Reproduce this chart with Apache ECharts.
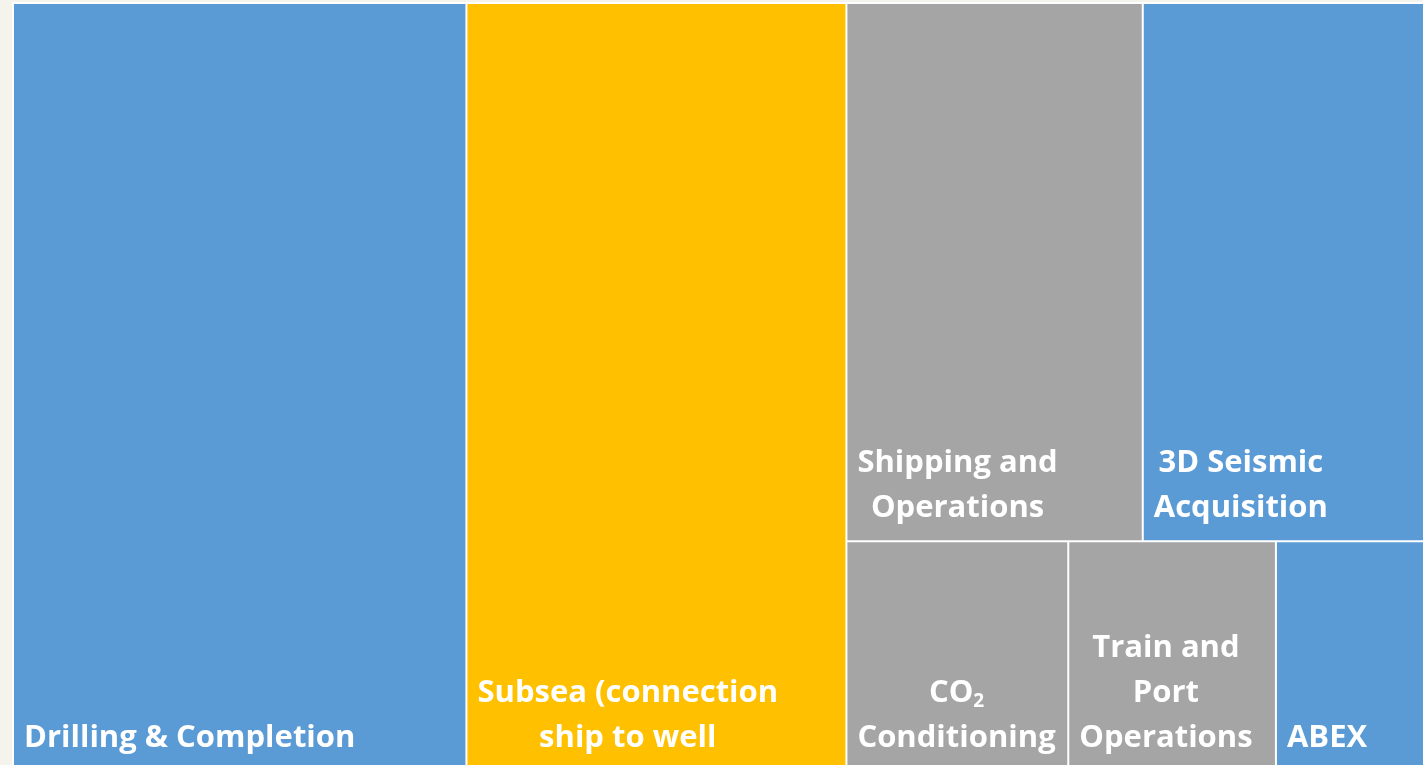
<!DOCTYPE html>
<html><head><meta charset="utf-8">
<script src="https://cdn.jsdelivr.net/npm/echarts@6/dist/echarts.min.js"></script>
<style>html,body{margin:0;padding:0;background:#F5F4EC;overflow:hidden;} #c{width:1423px;height:765px;}</style>
</head><body><div id="c"></div>
<script>
// ---- data ----
const categories = ['Drilling & Completion', 'Subsea (connection\nship to well', 'Shipping and\nOperations', '3D Seismic\nAcquisition', 'CO₂\nConditioning', 'Train and\nPort\nOperations', 'ABEX'];
const values = [32.1, 26.9, 14.7, 14.1, 4.7, 4.4, 3.2];
const groups = ['blue', 'yellow', 'gray', 'blue', 'gray', 'gray', 'blue'];
const groupColors = { blue: '#5B9BD5', yellow: '#FFC000', gray: '#A5A5A5' };

// ---- label styling ----
const FONT_FAMILY = 'Open Sans';
const FONT_SIZE = 31;
const SUB_SIZE = 19;
const LINE_H = 45;
const PAD_LEFT = 10;
const BOTTOM_GAP = 9;
const ctx = document.createElement('canvas').getContext('2d');
function measure(s, size) { ctx.font = 'bold ' + size + 'px "' + FONT_FAMILY + '"'; return ctx.measureText(s).width; }
function lineWidth(ln) {
  const parts = ln.split('₂');
  let w = 0;
  parts.forEach((p, i) => { w += measure(p, FONT_SIZE); if (i < parts.length - 1) w += measure('2', SUB_SIZE); });
  return w;
}
function tokenize(ln) {
  return ln.split('₂').map(p => p ? '{t|' + p + '}' : '').join('{sub|2}');
}
function buildLabel(name, cellHeight) {
  const lines = name.split('\n');
  const widths = lines.map(lineWidth);
  const blockW = Math.max.apply(null, widths);
  const base = { color: '#fff', fontFamily: FONT_FAMILY, fontWeight: 'bold', fontSize: FONT_SIZE, lineHeight: LINE_H };
  const rich = {
    t: Object.assign({}, base),
    sub: Object.assign({}, base, { fontSize: SUB_SIZE, lineHeight: LINE_H, padding: [16, 0, 0, 0] })
  };
  const out = lines.map((ln, i) => {
    const pad = (blockW - widths[i]) / 2;
    let s = '';
    if (pad > 0.5) { rich['s' + i] = Object.assign({}, base, { width: pad }); s = '{s' + i + '| }'; }
    return s + tokenize(ln);
  });
  const text = out.join('\n');
  const topPad = cellHeight != null ? Math.max(0, cellHeight - lines.length * LINE_H - BOTTOM_GAP) : 0;
  return { formatter: () => text, rich: rich, padding: [topPad, 0, 0, PAD_LEFT] };
}

function buildData(heights) {
  return categories.map((name, i) => ({
    name: name,
    value: values[i],
    itemStyle: { color: groupColors[groups[i]] },
    label: buildLabel(name, heights ? heights[name] : null)
  }));
}

const chart = echarts.init(document.getElementById('c'));
const baseOption = {
  backgroundColor: '#F5F4EC',
  animation: false,
  tooltip: { show: false },
  series: [{
    type: 'treemap',
    left: 12, top: 2, width: 1416, height: 770,
    squareRatio: 1,
    sort: 'desc',
    roam: false,
    nodeClick: false,
    breadcrumb: { show: false },
    label: {
      show: true,
      position: 'insideTopLeft',
      distance: 0,
      color: '#fff',
      fontFamily: FONT_FAMILY,
      fontWeight: 'bold',
      fontSize: FONT_SIZE,
      lineHeight: LINE_H,
      overflow: 'none'
    },
    upperLabel: { show: false },
    itemStyle: { borderColor: '#fff', borderWidth: 0, gapWidth: 2 },
    levels: [
      { itemStyle: { borderColor: '#fff', borderWidth: 2, gapWidth: 2 } },
      { itemStyle: { borderWidth: 0, gapWidth: 0 } }
    ],
    data: buildData(null)
  }]
};
chart.setOption(baseOption);

// second pass: place label blocks at the bottom of each cell, using the library's own layout
const heights = {};
try {
  const tree = chart.getModel().getSeriesByIndex(0).getData().tree;
  tree.root.children.forEach(node => { heights[node.name] = node.getLayout().height; });
} catch (e) {}
baseOption.series[0].data = buildData(heights);
chart.setOption(baseOption, true);
</script>
</body></html>
